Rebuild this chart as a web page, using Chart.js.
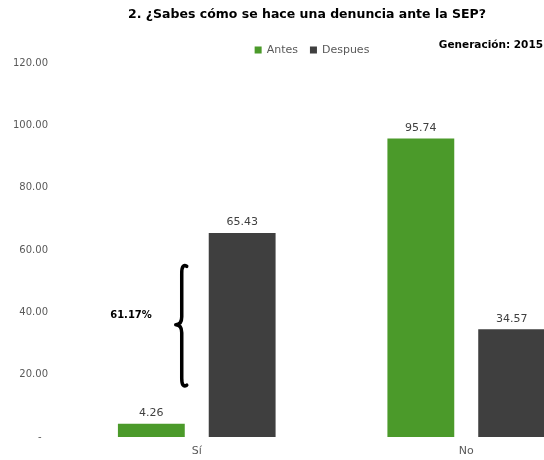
<!DOCTYPE html>
<html>
<head>
<meta charset="utf-8">
<script src="https://cdn.jsdelivr.net/npm/chart.js@4"></script>
<style>
html,body{margin:0;padding:0;overflow:hidden;background:#fff;width:544px;height:460px;}
canvas{display:block;}
</style>
</head>
<body>
<canvas id="c" width="614" height="460"></canvas>
<script>
const categories = ["Sí", "No"];
const seriesNames = ["Antes", "Despues"];
const antes = [4.26, 95.74];
const despues = [65.43, 34.57];
const yTicks = [0, 20, 40, 60, 80, 100, 120];
const titleText = "2. ¿Sabes cómo se hace una denuncia ante la SEP?";
const subtitleText = "Generación: 2015";
const braceLabel = "61.17%";
const braceRange = [16, 55.4];

const GREEN = "#4b9a2a";
const DARK = "#3f3f3f";
const FONT = "'DejaVu Sans', sans-serif";

const valueLabels = {
  id: 'valueLabels',
  afterDatasetsDraw(chart) {
    const ctx = chart.ctx;
    ctx.save();
    ctx.font = "11px " + FONT;
    ctx.fillStyle = "#404040";
    ctx.textAlign = "center";
    ctx.textBaseline = "bottom";
    chart.data.datasets.forEach((ds, i) => {
      chart.getDatasetMeta(i).data.forEach((bar, j) => {
        ctx.fillText(ds.data[j].toFixed(2), bar.x, bar.y - 5);
      });
    });
    ctx.restore();
  }
};

const customLegend = {
  id: 'customLegend',
  afterDraw(chart) {
    const ctx = chart.ctx;
    ctx.save();
    ctx.font = "11px " + FONT;
    ctx.textBaseline = "middle";
    ctx.textAlign = "left";
    const box = 7, gapText = 5, gapItem = 12, cy = 50, cx = 312;
    const items = chart.data.datasets.map(ds => ({ label: ds.label, color: ds.backgroundColor, w: ctx.measureText(ds.label).width }));
    const total = items.reduce((s, it) => s + box + gapText + it.w, 0) + gapItem * (items.length - 1);
    let x = cx - total / 2;
    items.forEach(it => {
      ctx.fillStyle = it.color;
      ctx.fillRect(x, cy - box / 2, box, box);
      x += box + gapText;
      ctx.fillStyle = "#595959";
      ctx.fillText(it.label, x, cy);
      x += it.w + gapItem;
    });
    ctx.restore();
  }
};

const extras = {
  id: 'extras',
  afterDraw(chart) {
    const ctx = chart.ctx;
    const y = chart.scales.y;
    const bar1 = chart.getDatasetMeta(1).data[0];
    ctx.save();
    // subtitle
    ctx.font = "bold 10.5px " + FONT;
    ctx.fillStyle = "#000";
    ctx.textAlign = "right";
    ctx.textBaseline = "middle";
    ctx.fillText(subtitleText, 543, 45);
    // brace
    const top = y.getPixelForValue(braceRange[1]);
    const bot = y.getPixelForValue(braceRange[0]);
    const mid = (top + bot) / 2 - 1;
    const xr = bar1.x - bar1.width / 2 - 22;
    const xm = xr - 5;
    const xt = xm - 6;
    ctx.strokeStyle = "#000";
    ctx.lineWidth = 3.5;
    ctx.lineCap = "round";
    ctx.lineJoin = "round";
    ctx.beginPath();
    ctx.moveTo(xr, top + 2);
    ctx.quadraticCurveTo(xm, top - 1, xm, top + 9);
    ctx.lineTo(xm, mid - 8);
    ctx.quadraticCurveTo(xm, mid, xt, mid);
    ctx.quadraticCurveTo(xm, mid, xm, mid + 8);
    ctx.lineTo(xm, bot - 9);
    ctx.quadraticCurveTo(xm, bot + 1, xr, bot - 2);
    ctx.stroke();
    ctx.font = "bold 10px " + FONT;
    ctx.textAlign = "center";
    ctx.fillText(braceLabel, 131, mid - 9);
    ctx.restore();
  }
};

new Chart(document.getElementById('c'), {
  type: 'bar',
  data: {
    labels: categories,
    datasets: [
      { label: seriesNames[0], data: antes, backgroundColor: GREEN },
      { label: seriesNames[1], data: despues, backgroundColor: DARK }
    ]
  },
  options: {
    responsive: false,
    animation: false,
    layout: { padding: { left: 13, right: 13, top: 0, bottom: 0 } },
    datasets: { bar: { categoryPercentage: 0.674, barPercentage: 0.736 } },
    plugins: {
      title: {
        display: true, text: titleText, color: "#000",
        font: { family: FONT, size: 12.5, weight: 'bold' },
        padding: { top: 7, bottom: 41 }
      },
      legend: { display: false },
      tooltip: { enabled: false }
    },
    scales: {
      x: {
        afterFit(s) { s.height = 23; },
        grid: { display: false }, border: { display: false },
        ticks: { color: "#595959", font: { family: FONT, size: 11 }, padding: 0 }
      },
      y: {
        min: 0, max: 120,
        afterBuildTicks(s) { s.ticks = yTicks.map(v => ({ value: v })); },
        afterFit(s) { s.width = 49; },
        grid: { display: false }, border: { display: false },
        ticks: {
          color: "#595959", font: { family: FONT, size: 10 }, padding: 6,
          callback: v => v === 0 ? "-  " : v.toFixed(2)
        }
      }
    }
  },
  plugins: [valueLabels, customLegend, extras]
});
</script>
</body>
</html>
